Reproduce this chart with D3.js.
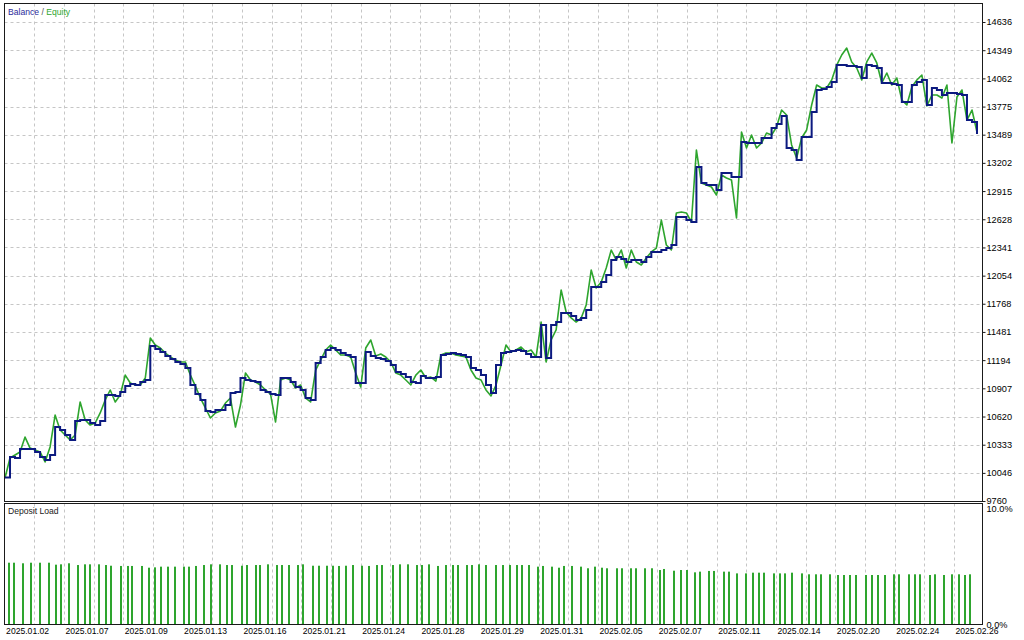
<!DOCTYPE html>
<html><head><meta charset="utf-8">
<script src="https://cdn.jsdelivr.net/npm/d3@7"></script>
<style>
body{margin:0;background:#fff}
svg{display:block}
text{font-family:"Liberation Sans",Arial,sans-serif}
</style>
</head><body><svg id="c" width="1024" height="640"></svg>
<script>
// ---------- data ----------
const balance = [10000,10208,10198,10289,10289,10289,10259,10208,10177,10228,
10513,10483,10432,10381,10574,10584,10584,10554,10533,10574,
10839,10839,10829,10869,10931,10951,10941,10971,10992,11338,
11307,11277,11236,11205,11175,11154,11114,10941,10849,10788,
10676,10666,10686,10686,10737,10859,10869,11012,10992,10982,
10971,10890,10869,10849,10839,11012,11012,10971,10920,10890,
10808,10788,11165,11226,11297,11317,11297,11266,11246,11226,
10961,10961,11277,11236,11216,11205,11185,11144,11073,11053,
11022,10971,10961,11032,11012,11012,11022,11246,11256,11266,
11256,11246,11226,11114,11093,11042,10941,10859,11144,11266,
11277,11287,11297,11287,11256,11226,11226,11551,11216,11551,
11582,11674,11674,11643,11602,11623,11704,11938,11938,11989,
12060,12213,12244,12223,12193,12213,12213,12193,12244,12295,
12295,12315,12335,12366,12651,12651,12620,12600,13160,12997,
12977,12977,12926,13099,13099,13058,13058,13414,13404,13404,
13404,13455,13455,13557,13598,13679,13353,13333,13231,13465,
13465,13720,13944,13954,13974,14025,14198,14198,14188,14188,
14178,14066,14198,14188,14168,14015,14015,14005,13995,13822,
13822,13995,14025,14046,13791,13964,13944,13893,13913,13913,
13903,13893,13638,13618,13496];

const equity = [9994,10198,10228,10259,10411,10299,10279,10259,10157,10310,
10635,10483,10432,10381,10432,10768,10584,10533,10554,10656,
10788,10890,10768,10839,11042,10961,10941,10941,11012,11419,
11348,11317,11266,11226,11195,11175,11175,11042,10931,10808,
10707,10605,10656,10676,10757,10808,10513,10737,11063,10992,
10971,10941,10890,10849,10564,10992,11012,10992,10910,10941,
10808,10768,11093,11195,11297,11348,11297,11246,11246,11226,
11063,10920,11317,11399,11236,11256,11226,11175,11063,11042,
10992,10941,11042,11093,11012,11022,10981,11246,11266,11266,
11246,11236,11226,11093,11012,10992,10890,10829,10941,11144,
11348,11277,11297,11328,11277,11297,11226,11582,11175,11399,
11501,11908,11684,11623,11582,11623,11755,12111,11928,11989,
12132,12315,12213,12315,12132,12315,12193,12162,12234,12295,
12335,12620,12366,12315,12692,12702,12692,12600,13333,12997,
12977,12956,12875,13078,13048,13028,12641,13516,13353,13486,
13353,13404,13506,13486,13567,13740,13689,13384,13252,13455,
13537,13791,13995,13964,13964,14046,14198,14300,14371,14229,
14168,14046,14229,14320,14219,14015,14117,13995,14066,13842,
13791,13974,14046,14096,13781,13893,13893,13862,13995,13404,
13872,13944,13638,13740,13516];

const loadDeal = [0.8,1.8,3.6,5.2,7.0,8.8,10.2,11.2,12.8,14.6,
16.0,17.0,18.8,20.2,21.2,23.2,24.6,25.3,27.3,28.7,
29.9,31.1,32.5,33.9,35.7,36.7,38.1,39.7,41.1,42.9,
44.3,45.3,47.3,48.3,50.1,50.9,52.5,54.3,55.3,56.7,
58.5,59.5,61.5,62.7,64.3,65.5,66.7,
68.0,69.4,71.3,72.7,74.2,75.2,77.5,78.8,80.4,82.2,
83.2,84.6,86.4,88.0,89.4,90.4,92.2,93.2,94.6,96.0,
97.9,99.3,100.8,102.1,103.1,104.6,106.4,107.4,109.1,110.6,
111.6,113.1,114.9,116.4,117.8,119.1,120.1,122.1,123.1,124.9,
125.9,127.7,129.2,130.7,131.6,
133.5,134.9,136.2,137.7,138.7,140.5,141.6,143.5,144.5,146.2,
147.8,149.2,150.5,151.5,153.5,154.7,155.7,157.1,159.0,160.5,
161.9,162.8,164.7,166.2,167.5,168.7,169.9,171.9,173.0,174.3,
175.6,177.5,178.5,180.4,181.6,182.6,184.7,185.6,187.5,189.0,
190.4,191.6,192.6];

const loadPct = [5.37,5.37,5.32,5.37,5.37,5.37,5.20,5.23,5.32,5.17,
5.23,5.23,5.23,5.17,5.11,5.09,5.09,5.09,5.09,4.94,
4.97,5.03,5.03,5.03,5.03,5.03,5.09,5.17,5.23,5.23,
5.17,5.17,5.11,5.17,5.17,5.17,5.23,5.17,5.17,5.17,
5.17,5.23,5.11,5.11,5.11,5.11,5.09,
5.11,5.17,5.11,5.09,5.17,5.17,5.17,5.23,5.23,5.17,
5.17,5.23,5.09,5.17,5.17,5.17,5.17,5.17,5.23,5.17,
5.17,5.17,5.17,5.17,5.17,5.17,5.03,5.09,5.03,4.94,
5.09,5.09,5.03,4.89,5.03,4.94,4.89,4.89,4.89,4.89,
4.89,4.89,4.89,4.74,4.83,
4.68,4.74,4.74,4.54,4.60,4.66,4.66,4.60,4.60,4.45,
4.45,4.51,4.51,4.51,4.45,4.45,4.45,4.51,4.45,4.37,
4.37,4.37,4.37,4.31,4.31,4.31,4.31,4.31,4.31,4.31,
4.31,4.37,4.37,4.37,4.37,4.37,4.31,4.37,4.31,4.37,
4.37,4.31,4.37];

const priceTicks = [9760,10046,10333,10620,10907,11194,11481,11768,12054,12341,12628,12915,13202,13489,13775,14062,14349,14636];
const loadTicks = [0,10];
const dateLabels = ["2025.01.02","2025.01.07","2025.01.09","2025.01.13","2025.01.16","2025.01.21","2025.01.24","2025.01.28","2025.01.29","2025.01.31","2025.02.05","2025.02.07","2025.02.11","2025.02.14","2025.02.20","2025.02.24","2025.02.26"];

// ---------- layout ----------
const L = 4.5, R = 982.5, mainTop = 3.5, mainBot = 501.5, loadTop = 503.5, loadBot = 624.5;
const svg = d3.select("#c");

const x = d3.scaleLinear().domain([0, 195]).range([5, 982]);
const y = d3.scaleLinear().domain([9760, 14636]).range([501, 22]);
const yl = d3.scaleLinear().domain([0, 10]).range([625, 509]);
const gridX = d3.scaleLinear().domain([0, 33]).range([4.6, 983.7]);
const xd = d3.scalePoint().domain(dateLabels).range([gridX(0), gridX(32)]);

const gridColor = "#c6c6c6";

// vertical grid (both panels)
const g = svg.append("g");
d3.range(1, 33).forEach(k => {
  const gx = Math.round(gridX(k)) + 0.5;
  g.append("line").attr("x1", gx).attr("x2", gx).attr("y1", mainTop).attr("y2", mainBot)
    .attr("stroke", gridColor).attr("stroke-dasharray", "3,3");
  g.append("line").attr("x1", gx).attr("x2", gx).attr("y1", loadTop).attr("y2", loadBot)
    .attr("stroke", gridColor).attr("stroke-dasharray", "3,3");
});
// horizontal grid
priceTicks.slice(1).forEach(t => {
  const gy = Math.round(y(t)) + 0.5;
  g.append("line").attr("x1", L).attr("x2", R).attr("y1", gy).attr("y2", gy)
    .attr("stroke", gridColor).attr("stroke-dasharray", "3,3");
});

// equity line
svg.append("path").datum(equity)
  .attr("fill", "none").attr("stroke", "#2ea52e").attr("stroke-width", 1.6)
  .attr("stroke-linejoin", "round")
  .attr("d", d3.line().x((d, i) => x(i)).y(d => y(d)));

// balance line
svg.append("path").datum(balance)
  .attr("fill", "none").attr("stroke", "#0c1a80").attr("stroke-width", 2)
  .attr("d", d3.line().x((d, i) => x(i)).y(d => y(d)).curve(d3.curveStepAfter));

// deposit load bars
svg.append("g").selectAll("rect").data(loadPct).join("rect")
  .attr("x", (d, i) => Math.round(x(loadDeal[i])) - 1)
  .attr("width", 2)
  .attr("y", d => yl(d))
  .attr("height", d => yl(0) - yl(d))
  .attr("fill", "#2ea52e");

// frames
svg.append("rect").attr("x", L).attr("y", mainTop).attr("width", R - L).attr("height", mainBot - mainTop)
  .attr("fill", "none").attr("stroke", "#1a1a1a");
svg.append("rect").attr("x", L).attr("y", loadTop).attr("width", R - L).attr("height", loadBot - loadTop)
  .attr("fill", "none").attr("stroke", "#1a1a1a");

// right price axis
const ay = svg.append("g").attr("transform", `translate(${R},0)`)
  .call(d3.axisRight(y).tickValues(priceTicks).tickSize(3).tickPadding(1).tickFormat(d3.format("d")));
ay.select(".domain").remove();
ay.selectAll("text").attr("font-size", 9.2).attr("fill", "#000").attr("font-family", "Liberation Sans, Arial, sans-serif");
ay.selectAll("line").attr("stroke", "#1a1a1a");

// right load axis
const al = svg.append("g").attr("transform", `translate(${R},0)`)
  .call(d3.axisRight(yl).tickValues(loadTicks).tickSize(0).tickPadding(4).tickFormat(d => d.toFixed(1) + "%"));
al.select(".domain").remove();
al.selectAll("text").attr("font-size", 9.2).attr("fill", "#000").attr("font-family", "Liberation Sans, Arial, sans-serif");

// bottom date axis
const ax = svg.append("g").attr("transform", `translate(0,${loadBot})`)
  .call(d3.axisBottom(xd).tickSize(0).tickPadding(3));
ax.select(".domain").remove();
ax.selectAll("text").attr("text-anchor", "start").attr("dx", 1)
  .attr("font-size", 8.6).attr("fill", "#000").attr("font-family", "Liberation Sans, Arial, sans-serif");

// redraw load labels on top of date labels
al.raise();

// legend
const lg = svg.append("text").attr("x", 8).attr("y", 14.5).attr("font-size", 8.6);
lg.append("tspan").text("Balance").attr("fill", "#2a2a9a");
lg.append("tspan").text(" / ").attr("fill", "#555");
lg.append("tspan").text("Equity").attr("fill", "#2ea52e");

svg.append("text").attr("x", 8).attr("y", 513.5).attr("font-size", 8.6).attr("fill", "#222").text("Deposit Load");
</script>
</body></html>
